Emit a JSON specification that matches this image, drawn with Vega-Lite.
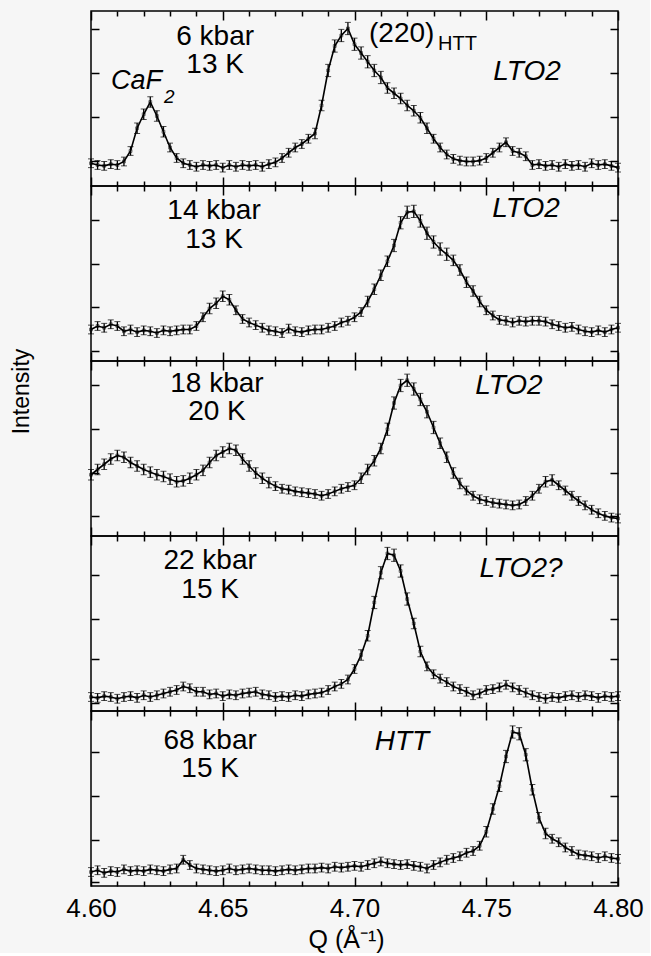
{
"$schema": "https://vega.github.io/schema/vega-lite/v6.json",
"background": "#f6f6f6",
"padding": {"left": 9, "top": 9, "right": 5, "bottom": 0},
"spacing": 0,
"bounds": "flush",
"datasets": {
"p1": [{"q":4.6,"i":13,"e":2.5},{"q":4.6025,"i":12,"e":2.5},{"q":4.605,"i":11.5,"e":2.5},{"q":4.6075,"i":12.5,"e":2.5},{"q":4.61,"i":12,"e":2.5},{"q":4.6125,"i":14,"e":2.5},{"q":4.615,"i":20,"e":2.5},{"q":4.6175,"i":33,"e":3},{"q":4.62,"i":41,"e":3},{"q":4.6225,"i":48,"e":3},{"q":4.625,"i":40,"e":3},{"q":4.6275,"i":31,"e":3},{"q":4.63,"i":22,"e":2.5},{"q":4.6325,"i":16,"e":2.5},{"q":4.635,"i":13,"e":2.5},{"q":4.6375,"i":12,"e":2.5},{"q":4.64,"i":11,"e":2.5},{"q":4.6425,"i":12,"e":2.5},{"q":4.645,"i":11.5,"e":2.5},{"q":4.6475,"i":12,"e":2.5},{"q":4.65,"i":10.5,"e":2.5},{"q":4.6525,"i":12,"e":2.5},{"q":4.655,"i":11,"e":2.5},{"q":4.6575,"i":12,"e":2.5},{"q":4.66,"i":11.5,"e":2.5},{"q":4.6625,"i":12,"e":2.5},{"q":4.665,"i":11,"e":2.5},{"q":4.6675,"i":12.5,"e":2.5},{"q":4.67,"i":13.5,"e":2.5},{"q":4.6725,"i":16,"e":2.5},{"q":4.675,"i":19,"e":2.5},{"q":4.6775,"i":22,"e":2.5},{"q":4.68,"i":24,"e":2.5},{"q":4.6825,"i":27,"e":2.5},{"q":4.685,"i":30,"e":3},{"q":4.6875,"i":46,"e":3},{"q":4.69,"i":66,"e":3.5},{"q":4.6925,"i":80,"e":3.5},{"q":4.695,"i":86,"e":3.5},{"q":4.6975,"i":90,"e":3.5},{"q":4.7,"i":81,"e":3.5},{"q":4.7025,"i":76,"e":3.5},{"q":4.705,"i":71,"e":3.5},{"q":4.7075,"i":66,"e":3.5},{"q":4.71,"i":62,"e":3.5},{"q":4.7125,"i":56,"e":3},{"q":4.715,"i":53,"e":3},{"q":4.7175,"i":50,"e":3},{"q":4.72,"i":46,"e":3},{"q":4.7225,"i":43,"e":3},{"q":4.725,"i":39,"e":3},{"q":4.7275,"i":33,"e":3},{"q":4.73,"i":27,"e":2.5},{"q":4.7325,"i":22,"e":2.5},{"q":4.735,"i":18,"e":2.5},{"q":4.7375,"i":15.5,"e":2.5},{"q":4.74,"i":14.5,"e":2.5},{"q":4.7425,"i":14,"e":2.5},{"q":4.745,"i":14,"e":2.5},{"q":4.7475,"i":14.5,"e":2.5},{"q":4.75,"i":16,"e":2.5},{"q":4.7525,"i":19,"e":2.5},{"q":4.755,"i":22,"e":2.5},{"q":4.7575,"i":25,"e":2.5},{"q":4.76,"i":20,"e":2.5},{"q":4.7625,"i":19,"e":2.5},{"q":4.765,"i":17,"e":2.5},{"q":4.7675,"i":12,"e":2.5},{"q":4.77,"i":12.5,"e":2.5},{"q":4.7725,"i":11.5,"e":2.5},{"q":4.775,"i":12,"e":2.5},{"q":4.7775,"i":11,"e":2.5},{"q":4.78,"i":12.5,"e":2.5},{"q":4.7825,"i":11.5,"e":2.5},{"q":4.785,"i":12,"e":2.5},{"q":4.7875,"i":11,"e":2.5},{"q":4.79,"i":13,"e":2.5},{"q":4.7925,"i":12,"e":2.5},{"q":4.795,"i":12.5,"e":2.5},{"q":4.7975,"i":11.5,"e":2.5},{"q":4.8,"i":10.5,"e":2.5}],
"p2": [{"q":4.6,"i":18,"e":2.5},{"q":4.6025,"i":20,"e":2.5},{"q":4.605,"i":19,"e":2.5},{"q":4.6075,"i":21,"e":2.5},{"q":4.61,"i":20,"e":2.5},{"q":4.6125,"i":17,"e":2.5},{"q":4.615,"i":18,"e":2.5},{"q":4.6175,"i":16.5,"e":2.5},{"q":4.62,"i":17.5,"e":2.5},{"q":4.6225,"i":17,"e":2.5},{"q":4.625,"i":16,"e":2.5},{"q":4.6275,"i":17.5,"e":2.5},{"q":4.63,"i":17,"e":2.5},{"q":4.6325,"i":17.5,"e":2.5},{"q":4.635,"i":18,"e":2.5},{"q":4.6375,"i":18,"e":2.5},{"q":4.64,"i":20,"e":2.5},{"q":4.6425,"i":25,"e":2.5},{"q":4.645,"i":30,"e":3},{"q":4.6475,"i":33,"e":3},{"q":4.65,"i":37,"e":3},{"q":4.6525,"i":35,"e":3},{"q":4.655,"i":29,"e":2.5},{"q":4.6575,"i":24,"e":2.5},{"q":4.66,"i":22,"e":2.5},{"q":4.6625,"i":20.5,"e":2.5},{"q":4.665,"i":19,"e":2.5},{"q":4.6675,"i":17.5,"e":2.5},{"q":4.67,"i":17,"e":2.5},{"q":4.6725,"i":16,"e":2.5},{"q":4.675,"i":18.5,"e":2.5},{"q":4.6775,"i":17,"e":2.5},{"q":4.68,"i":16.5,"e":2.5},{"q":4.6825,"i":17.5,"e":2.5},{"q":4.685,"i":18,"e":2.5},{"q":4.6875,"i":18,"e":2.5},{"q":4.69,"i":19,"e":2.5},{"q":4.6925,"i":20,"e":2.5},{"q":4.695,"i":22,"e":2.5},{"q":4.6975,"i":23,"e":2.5},{"q":4.7,"i":25,"e":2.5},{"q":4.7025,"i":28,"e":2.5},{"q":4.705,"i":34,"e":3},{"q":4.7075,"i":41,"e":3},{"q":4.71,"i":49,"e":3},{"q":4.7125,"i":57,"e":3},{"q":4.715,"i":66,"e":3.5},{"q":4.7175,"i":79,"e":3.5},{"q":4.72,"i":85,"e":3.5},{"q":4.7225,"i":85.5,"e":3.5},{"q":4.725,"i":80,"e":3.5},{"q":4.7275,"i":73,"e":3.5},{"q":4.73,"i":68,"e":3.5},{"q":4.7325,"i":64,"e":3.5},{"q":4.735,"i":61,"e":3.5},{"q":4.7375,"i":57.5,"e":3},{"q":4.74,"i":52,"e":3},{"q":4.7425,"i":45,"e":3},{"q":4.745,"i":40,"e":3},{"q":4.7475,"i":34,"e":3},{"q":4.75,"i":29,"e":2.5},{"q":4.7525,"i":26,"e":2.5},{"q":4.755,"i":23.5,"e":2.5},{"q":4.7575,"i":23,"e":2.5},{"q":4.76,"i":22,"e":2.5},{"q":4.7625,"i":23,"e":2.5},{"q":4.765,"i":22.5,"e":2.5},{"q":4.7675,"i":23,"e":2.5},{"q":4.77,"i":23,"e":2.5},{"q":4.7725,"i":22.5,"e":2.5},{"q":4.775,"i":21,"e":2.5},{"q":4.7775,"i":20,"e":2.5},{"q":4.78,"i":19,"e":2.5},{"q":4.7825,"i":19.5,"e":2.5},{"q":4.785,"i":18,"e":2.5},{"q":4.7875,"i":17,"e":2.5},{"q":4.79,"i":16.5,"e":2.5},{"q":4.7925,"i":17.5,"e":2.5},{"q":4.795,"i":16.5,"e":2.5},{"q":4.7975,"i":18,"e":2.5},{"q":4.8,"i":19,"e":2.5}],
"p3": [{"q":4.6,"i":35,"e":3},{"q":4.6025,"i":38,"e":3},{"q":4.605,"i":41,"e":3},{"q":4.6075,"i":44,"e":3},{"q":4.61,"i":46,"e":3},{"q":4.6125,"i":45,"e":3},{"q":4.615,"i":42,"e":3},{"q":4.6175,"i":40,"e":3},{"q":4.62,"i":38,"e":3},{"q":4.6225,"i":36.5,"e":3},{"q":4.625,"i":35,"e":3},{"q":4.6275,"i":34,"e":3},{"q":4.63,"i":32.5,"e":3},{"q":4.6325,"i":31,"e":3},{"q":4.635,"i":31.5,"e":3},{"q":4.6375,"i":33,"e":3},{"q":4.64,"i":35,"e":3},{"q":4.6425,"i":37.5,"e":3},{"q":4.645,"i":42,"e":3},{"q":4.6475,"i":46,"e":3},{"q":4.65,"i":48,"e":3},{"q":4.6525,"i":50,"e":3},{"q":4.655,"i":49,"e":3},{"q":4.6575,"i":44,"e":3},{"q":4.66,"i":40,"e":3},{"q":4.6625,"i":36,"e":3},{"q":4.665,"i":33,"e":3},{"q":4.6675,"i":30.5,"e":3},{"q":4.67,"i":28.5,"e":2.5},{"q":4.6725,"i":27,"e":2.5},{"q":4.675,"i":26.5,"e":2.5},{"q":4.6775,"i":25.5,"e":2.5},{"q":4.68,"i":25,"e":2.5},{"q":4.6825,"i":24.5,"e":2.5},{"q":4.685,"i":24,"e":2.5},{"q":4.6875,"i":23,"e":2.5},{"q":4.69,"i":24,"e":2.5},{"q":4.6925,"i":25.5,"e":2.5},{"q":4.695,"i":27,"e":2.5},{"q":4.6975,"i":28,"e":2.5},{"q":4.7,"i":29,"e":2.5},{"q":4.7025,"i":33,"e":3},{"q":4.705,"i":38,"e":3},{"q":4.7075,"i":43,"e":3},{"q":4.71,"i":50,"e":3},{"q":4.7125,"i":61,"e":3.5},{"q":4.715,"i":76,"e":3.5},{"q":4.7175,"i":86,"e":3.5},{"q":4.72,"i":89,"e":3.5},{"q":4.7225,"i":84,"e":3.5},{"q":4.725,"i":78,"e":3.5},{"q":4.7275,"i":71,"e":3.5},{"q":4.73,"i":62,"e":3.5},{"q":4.7325,"i":53,"e":3},{"q":4.735,"i":45,"e":3},{"q":4.7375,"i":36,"e":3},{"q":4.74,"i":30,"e":3},{"q":4.7425,"i":26,"e":2.5},{"q":4.745,"i":23,"e":2.5},{"q":4.7475,"i":21,"e":2.5},{"q":4.75,"i":20,"e":2.5},{"q":4.7525,"i":19,"e":2.5},{"q":4.755,"i":18.5,"e":2.5},{"q":4.7575,"i":18,"e":2.5},{"q":4.76,"i":17.5,"e":2.5},{"q":4.7625,"i":18,"e":2.5},{"q":4.765,"i":20,"e":2.5},{"q":4.7675,"i":23,"e":2.5},{"q":4.77,"i":27,"e":2.5},{"q":4.7725,"i":31,"e":3},{"q":4.775,"i":32,"e":3},{"q":4.7775,"i":29,"e":2.5},{"q":4.78,"i":26,"e":2.5},{"q":4.7825,"i":23,"e":2.5},{"q":4.785,"i":20,"e":2.5},{"q":4.7875,"i":17.5,"e":2.5},{"q":4.79,"i":15,"e":2.5},{"q":4.7925,"i":13,"e":2.5},{"q":4.795,"i":11.5,"e":2.5},{"q":4.7975,"i":10.5,"e":2.5},{"q":4.8,"i":10,"e":2.5}],
"p4": [{"q":4.6,"i":8,"e":2.5},{"q":4.6025,"i":7.5,"e":2.5},{"q":4.605,"i":8.5,"e":2.5},{"q":4.6075,"i":8,"e":2.5},{"q":4.61,"i":7,"e":2.5},{"q":4.6125,"i":8,"e":2.5},{"q":4.615,"i":8.5,"e":2.5},{"q":4.6175,"i":7.5,"e":2.5},{"q":4.62,"i":9,"e":2.5},{"q":4.6225,"i":8,"e":2.5},{"q":4.625,"i":9,"e":2.5},{"q":4.6275,"i":10,"e":2.5},{"q":4.63,"i":11,"e":2.5},{"q":4.6325,"i":12,"e":2.5},{"q":4.635,"i":14,"e":2.5},{"q":4.6375,"i":13,"e":2.5},{"q":4.64,"i":11,"e":2.5},{"q":4.6425,"i":11,"e":2.5},{"q":4.645,"i":9.5,"e":2.5},{"q":4.6475,"i":10,"e":2.5},{"q":4.65,"i":8.5,"e":2.5},{"q":4.6525,"i":9.5,"e":2.5},{"q":4.655,"i":9,"e":2.5},{"q":4.6575,"i":10,"e":2.5},{"q":4.66,"i":10.5,"e":2.5},{"q":4.6625,"i":11,"e":2.5},{"q":4.665,"i":9.5,"e":2.5},{"q":4.6675,"i":9,"e":2.5},{"q":4.67,"i":8,"e":2.5},{"q":4.6725,"i":8.5,"e":2.5},{"q":4.675,"i":8,"e":2.5},{"q":4.6775,"i":9,"e":2.5},{"q":4.68,"i":8.5,"e":2.5},{"q":4.6825,"i":9.5,"e":2.5},{"q":4.685,"i":10,"e":2.5},{"q":4.6875,"i":10.5,"e":2.5},{"q":4.69,"i":12,"e":2.5},{"q":4.6925,"i":14,"e":2.5},{"q":4.695,"i":15.5,"e":2.5},{"q":4.6975,"i":18,"e":2.5},{"q":4.7,"i":24,"e":2.5},{"q":4.7025,"i":32,"e":3},{"q":4.705,"i":43,"e":3},{"q":4.7075,"i":62,"e":3.5},{"q":4.71,"i":79,"e":3.5},{"q":4.7125,"i":90,"e":3.5},{"q":4.715,"i":89,"e":3.5},{"q":4.7175,"i":80,"e":3.5},{"q":4.72,"i":64,"e":3.5},{"q":4.7225,"i":50,"e":3},{"q":4.725,"i":34,"e":3},{"q":4.7275,"i":25.5,"e":2.5},{"q":4.73,"i":21,"e":2.5},{"q":4.7325,"i":18.5,"e":2.5},{"q":4.735,"i":16.5,"e":2.5},{"q":4.7375,"i":14,"e":2.5},{"q":4.74,"i":12.5,"e":2.5},{"q":4.7425,"i":11,"e":2.5},{"q":4.745,"i":9,"e":2.5},{"q":4.7475,"i":10,"e":2.5},{"q":4.75,"i":12,"e":2.5},{"q":4.7525,"i":12.5,"e":2.5},{"q":4.755,"i":13.5,"e":2.5},{"q":4.7575,"i":15,"e":2.5},{"q":4.76,"i":13.5,"e":2.5},{"q":4.7625,"i":12,"e":2.5},{"q":4.765,"i":10.5,"e":2.5},{"q":4.7675,"i":9,"e":2.5},{"q":4.77,"i":8,"e":2.5},{"q":4.7725,"i":7,"e":2.5},{"q":4.775,"i":8,"e":2.5},{"q":4.7775,"i":7.5,"e":2.5},{"q":4.78,"i":8.5,"e":2.5},{"q":4.7825,"i":9,"e":2.5},{"q":4.785,"i":8,"e":2.5},{"q":4.7875,"i":9,"e":2.5},{"q":4.79,"i":8.5,"e":2.5},{"q":4.7925,"i":7.5,"e":2.5},{"q":4.795,"i":8.5,"e":2.5},{"q":4.7975,"i":8,"e":2.5},{"q":4.8,"i":8.5,"e":2.5}],
"p5": [{"q":4.6,"i":8,"e":2.5},{"q":4.6025,"i":9,"e":2.5},{"q":4.605,"i":7.5,"e":2.5},{"q":4.6075,"i":8.5,"e":2.5},{"q":4.61,"i":8,"e":2.5},{"q":4.6125,"i":9.5,"e":2.5},{"q":4.615,"i":8.5,"e":2.5},{"q":4.6175,"i":9,"e":2.5},{"q":4.62,"i":8.5,"e":2.5},{"q":4.6225,"i":9.5,"e":2.5},{"q":4.625,"i":9,"e":2.5},{"q":4.6275,"i":8.5,"e":2.5},{"q":4.63,"i":9.5,"e":2.5},{"q":4.6325,"i":10,"e":2.5},{"q":4.635,"i":15,"e":2.5},{"q":4.6375,"i":12,"e":2.5},{"q":4.64,"i":10,"e":2.5},{"q":4.6425,"i":9.5,"e":2.5},{"q":4.645,"i":9,"e":2.5},{"q":4.6475,"i":8.5,"e":2.5},{"q":4.65,"i":9,"e":2.5},{"q":4.6525,"i":10,"e":2.5},{"q":4.655,"i":9,"e":2.5},{"q":4.6575,"i":9.5,"e":2.5},{"q":4.66,"i":10,"e":2.5},{"q":4.6625,"i":9.5,"e":2.5},{"q":4.665,"i":9,"e":2.5},{"q":4.6675,"i":9,"e":2.5},{"q":4.67,"i":8.5,"e":2.5},{"q":4.6725,"i":9,"e":2.5},{"q":4.675,"i":9.5,"e":2.5},{"q":4.6775,"i":9,"e":2.5},{"q":4.68,"i":9.5,"e":2.5},{"q":4.6825,"i":10,"e":2.5},{"q":4.685,"i":10,"e":2.5},{"q":4.6875,"i":10.5,"e":2.5},{"q":4.69,"i":10,"e":2.5},{"q":4.6925,"i":11,"e":2.5},{"q":4.695,"i":10.5,"e":2.5},{"q":4.6975,"i":11,"e":2.5},{"q":4.7,"i":11.5,"e":2.5},{"q":4.7025,"i":11,"e":2.5},{"q":4.705,"i":12,"e":2.5},{"q":4.7075,"i":13,"e":2.5},{"q":4.71,"i":14,"e":2.5},{"q":4.7125,"i":13,"e":2.5},{"q":4.715,"i":12.5,"e":2.5},{"q":4.7175,"i":12,"e":2.5},{"q":4.72,"i":12.5,"e":2.5},{"q":4.7225,"i":11.5,"e":2.5},{"q":4.725,"i":11,"e":2.5},{"q":4.7275,"i":10,"e":2.5},{"q":4.73,"i":12,"e":2.5},{"q":4.7325,"i":13.5,"e":2.5},{"q":4.735,"i":15,"e":2.5},{"q":4.7375,"i":16,"e":2.5},{"q":4.74,"i":17,"e":2.5},{"q":4.7425,"i":19,"e":2.5},{"q":4.745,"i":20,"e":2.5},{"q":4.7475,"i":23,"e":2.5},{"q":4.75,"i":31,"e":3},{"q":4.7525,"i":44,"e":3},{"q":4.755,"i":57,"e":3},{"q":4.7575,"i":74,"e":3.5},{"q":4.76,"i":88,"e":3.5},{"q":4.7625,"i":87,"e":3.5},{"q":4.765,"i":75,"e":3.5},{"q":4.7675,"i":55,"e":3},{"q":4.77,"i":39,"e":3},{"q":4.7725,"i":30,"e":3},{"q":4.775,"i":27,"e":2.5},{"q":4.7775,"i":25,"e":2.5},{"q":4.78,"i":22,"e":2.5},{"q":4.7825,"i":20,"e":2.5},{"q":4.785,"i":18,"e":2.5},{"q":4.7875,"i":17.5,"e":2.5},{"q":4.79,"i":17,"e":2.5},{"q":4.7925,"i":16,"e":2.5},{"q":4.795,"i":17,"e":2.5},{"q":4.7975,"i":16,"e":2.5},{"q":4.8,"i":15.5,"e":2.5}]
},
"vconcat": [
{
 "width": 527, "height": 175,
 "data": {"name": "p1"},
 "layer": [
  {"mark": {"type": "errorbar", "color": "black", "ticks": {"size": 6, "color": "black", "strokeWidth": 1.3}, "rule": {"strokeWidth": 1.3, "color": "black"}},
   "encoding": {"x": {"field": "q", "type": "quantitative", "scale": {"domain": [4.6, 4.8], "nice": false, "zero": false}, "axis": null},
    "y": {"field": "i", "type": "quantitative", "scale": {"domain": [0, 100], "nice": false, "zero": false}, "axis": null},
    "yError": {"field": "e"}}},
  {"mark": {"type": "line", "color": "black", "strokeWidth": 1.6},
   "encoding": {"x": {"field": "q", "type": "quantitative", "axis": {"orient": "bottom", "values": [4.6,4.61,4.62,4.63,4.64,4.65,4.66,4.67,4.68,4.69,4.7,4.71,4.72,4.73,4.74,4.75,4.76,4.77,4.78,4.79,4.8], "tickSize": {"condition": {"test": "abs(datum.value*20-round(datum.value*20))<0.01", "value": -9}, "value": -5}, "labels": false, "title": null}},
    "y": {"field": "i", "type": "quantitative", "axis": {"orient": "left", "values": [89.7,64.6,39.4,14.3], "tickSize": -8, "labels": false, "title": null}}}},
  {"mark": {"type": "point", "shape": "square", "size": 8, "filled": false, "color": "black", "strokeWidth": 0.8},
   "encoding": {"x": {"field": "q", "type": "quantitative", "axis": {"orient": "top", "values": [4.6,4.61,4.62,4.63,4.64,4.65,4.66,4.67,4.68,4.69,4.7,4.71,4.72,4.73,4.74,4.75,4.76,4.77,4.78,4.79,4.8], "tickSize": {"condition": {"test": "abs(datum.value*20-round(datum.value*20))<0.01", "value": -9}, "value": -5}, "labels": false, "title": null}},
    "y": {"field": "i", "type": "quantitative", "axis": {"orient": "right", "values": [89.7,64.6,39.4,14.3], "tickSize": -8, "labels": false, "title": null}}}},
  {"data": {"values": [{}]}, "mark": {"type": "text", "fontSize": 28, "align": "center", "baseline": "alphabetic", "lineHeight": 28.5},
   "encoding": {"x": {"datum": 4.6471, "type": "quantitative", "axis": null}, "y": {"datum": 80.6, "type": "quantitative", "axis": null}, "text": {"value": ["6 kbar", "13 K"]}}},
  {"data": {"values": [{}]}, "mark": {"type": "text", "fontSize": 27, "fontStyle": "italic", "align": "left", "baseline": "alphabetic"},
   "encoding": {"x": {"datum": 4.6076, "type": "quantitative", "axis": null}, "y": {"datum": 55.4, "type": "quantitative", "axis": null}, "text": {"value": "CaF"}}},
  {"data": {"values": [{}]}, "mark": {"type": "text", "fontSize": 19, "fontStyle": "italic", "align": "left", "baseline": "alphabetic"},
   "encoding": {"x": {"datum": 4.6277, "type": "quantitative", "axis": null}, "y": {"datum": 47.4, "type": "quantitative", "axis": null}, "text": {"value": "2"}}},
  {"data": {"values": [{}]}, "mark": {"type": "text", "fontSize": 28, "align": "left", "baseline": "alphabetic"},
   "encoding": {"x": {"datum": 4.7055, "type": "quantitative", "axis": null}, "y": {"datum": 82.3, "type": "quantitative", "axis": null}, "text": {"value": "(220)"}}},
  {"data": {"values": [{}]}, "mark": {"type": "text", "fontSize": 20, "align": "left", "baseline": "alphabetic"},
   "encoding": {"x": {"datum": 4.7317, "type": "quantitative", "axis": null}, "y": {"datum": 77.7, "type": "quantitative", "axis": null}, "text": {"value": "HTT"}}},
  {"data": {"values": [{}]}, "mark": {"type": "text", "fontSize": 28, "fontStyle": "italic", "align": "center", "baseline": "alphabetic"},
   "encoding": {"x": {"datum": 4.7655, "type": "quantitative", "axis": null}, "y": {"datum": 60.6, "type": "quantitative", "axis": null}, "text": {"value": "LTO2"}}}
 ],
 "resolve": {"axis": {"x": "independent", "y": "independent"}}
},
{
 "width": 527, "height": 175,
 "data": {"name": "p2"},
 "layer": [
  {"mark": {"type": "errorbar", "color": "black", "ticks": {"size": 6, "color": "black", "strokeWidth": 1.3}, "rule": {"strokeWidth": 1.3, "color": "black"}},
   "encoding": {"x": {"field": "q", "type": "quantitative", "scale": {"domain": [4.6, 4.8], "nice": false, "zero": false}, "axis": null},
    "y": {"field": "i", "type": "quantitative", "scale": {"domain": [0, 100], "nice": false, "zero": false}, "axis": null},
    "yError": {"field": "e"}}},
  {"mark": {"type": "line", "color": "black", "strokeWidth": 1.6},
   "encoding": {"x": {"field": "q", "type": "quantitative", "axis": {"orient": "bottom", "values": [4.6,4.61,4.62,4.63,4.64,4.65,4.66,4.67,4.68,4.69,4.7,4.71,4.72,4.73,4.74,4.75,4.76,4.77,4.78,4.79,4.8], "tickSize": {"condition": {"test": "abs(datum.value*20-round(datum.value*20))<0.01", "value": -9}, "value": -5}, "labels": false, "title": null}},
    "y": {"field": "i", "type": "quantitative", "axis": {"orient": "left", "values": [80.6,55.4,30.9,5.7], "tickSize": -8, "labels": false, "title": null}}}},
  {"mark": {"type": "point", "shape": "square", "size": 8, "filled": false, "color": "black", "strokeWidth": 0.8},
   "encoding": {"x": {"field": "q", "type": "quantitative", "axis": {"orient": "top", "values": [4.6,4.61,4.62,4.63,4.64,4.65,4.66,4.67,4.68,4.69,4.7,4.71,4.72,4.73,4.74,4.75,4.76,4.77,4.78,4.79,4.8], "tickSize": {"condition": {"test": "abs(datum.value*20-round(datum.value*20))<0.01", "value": -9}, "value": -5}, "labels": false, "title": null}},
    "y": {"field": "i", "type": "quantitative", "axis": {"orient": "right", "values": [80.6,55.4,30.9,5.7], "tickSize": -8, "labels": false, "title": null}}}},
  {"data": {"values": [{}]}, "mark": {"type": "text", "fontSize": 28, "align": "center", "baseline": "alphabetic", "lineHeight": 28.5},
   "encoding": {"x": {"datum": 4.6467, "type": "quantitative", "axis": null}, "y": {"datum": 81.1, "type": "quantitative", "axis": null}, "text": {"value": ["14 kbar", "13 K"]}}},
  {"data": {"values": [{}]}, "mark": {"type": "text", "fontSize": 28, "fontStyle": "italic", "align": "center", "baseline": "alphabetic"},
   "encoding": {"x": {"datum": 4.7651, "type": "quantitative", "axis": null}, "y": {"datum": 82.3, "type": "quantitative", "axis": null}, "text": {"value": "LTO2"}}}
 ],
 "resolve": {"axis": {"x": "independent", "y": "independent"}}
},
{
 "width": 527, "height": 175,
 "data": {"name": "p3"},
 "layer": [
  {"mark": {"type": "errorbar", "color": "black", "ticks": {"size": 6, "color": "black", "strokeWidth": 1.3}, "rule": {"strokeWidth": 1.3, "color": "black"}},
   "encoding": {"x": {"field": "q", "type": "quantitative", "scale": {"domain": [4.6, 4.8], "nice": false, "zero": false}, "axis": null},
    "y": {"field": "i", "type": "quantitative", "scale": {"domain": [0, 100], "nice": false, "zero": false}, "axis": null},
    "yError": {"field": "e"}}},
  {"mark": {"type": "line", "color": "black", "strokeWidth": 1.6},
   "encoding": {"x": {"field": "q", "type": "quantitative", "axis": {"orient": "bottom", "values": [4.6,4.61,4.62,4.63,4.64,4.65,4.66,4.67,4.68,4.69,4.7,4.71,4.72,4.73,4.74,4.75,4.76,4.77,4.78,4.79,4.8], "tickSize": {"condition": {"test": "abs(datum.value*20-round(datum.value*20))<0.01", "value": -9}, "value": -5}, "labels": false, "title": null}},
    "y": {"field": "i", "type": "quantitative", "axis": {"orient": "left", "values": [86.3,61.1,36,11.4], "tickSize": -8, "labels": false, "title": "Intensity", "titleFontSize": 23, "titleFontWeight": "normal", "titleColor": "black", "titleFont": "Liberation Sans", "titleX": -63, "titleY": 30, "titleAngle": 270, "titleAlign": "center", "titleBaseline": "alphabetic"}}}},
  {"mark": {"type": "point", "shape": "square", "size": 8, "filled": false, "color": "black", "strokeWidth": 0.8},
   "encoding": {"x": {"field": "q", "type": "quantitative", "axis": {"orient": "top", "values": [4.6,4.61,4.62,4.63,4.64,4.65,4.66,4.67,4.68,4.69,4.7,4.71,4.72,4.73,4.74,4.75,4.76,4.77,4.78,4.79,4.8], "tickSize": {"condition": {"test": "abs(datum.value*20-round(datum.value*20))<0.01", "value": -9}, "value": -5}, "labels": false, "title": null}},
    "y": {"field": "i", "type": "quantitative", "axis": {"orient": "right", "values": [86.3,61.1,36,11.4], "tickSize": -8, "labels": false, "title": null}}}},
  {"data": {"values": [{}]}, "mark": {"type": "text", "fontSize": 28, "align": "center", "baseline": "alphabetic", "lineHeight": 28.5},
   "encoding": {"x": {"datum": 4.6478, "type": "quantitative", "axis": null}, "y": {"datum": 82.3, "type": "quantitative", "axis": null}, "text": {"value": ["18 kbar", "20 K"]}}},
  {"data": {"values": [{}]}, "mark": {"type": "text", "fontSize": 28, "fontStyle": "italic", "align": "center", "baseline": "alphabetic"},
   "encoding": {"x": {"datum": 4.7586, "type": "quantitative", "axis": null}, "y": {"datum": 81.1, "type": "quantitative", "axis": null}, "text": {"value": "LTO2"}}}
 ],
 "resolve": {"axis": {"x": "independent", "y": "independent"}}
},
{
 "width": 527, "height": 175,
 "data": {"name": "p4"},
 "layer": [
  {"mark": {"type": "errorbar", "color": "black", "ticks": {"size": 6, "color": "black", "strokeWidth": 1.3}, "rule": {"strokeWidth": 1.3, "color": "black"}},
   "encoding": {"x": {"field": "q", "type": "quantitative", "scale": {"domain": [4.6, 4.8], "nice": false, "zero": false}, "axis": null},
    "y": {"field": "i", "type": "quantitative", "scale": {"domain": [0, 100], "nice": false, "zero": false}, "axis": null},
    "yError": {"field": "e"}}},
  {"mark": {"type": "line", "color": "black", "strokeWidth": 1.6},
   "encoding": {"x": {"field": "q", "type": "quantitative", "axis": {"orient": "bottom", "values": [4.6,4.61,4.62,4.63,4.64,4.65,4.66,4.67,4.68,4.69,4.7,4.71,4.72,4.73,4.74,4.75,4.76,4.77,4.78,4.79,4.8], "tickSize": {"condition": {"test": "abs(datum.value*20-round(datum.value*20))<0.01", "value": -9}, "value": -5}, "labels": false, "title": null}},
    "y": {"field": "i", "type": "quantitative", "axis": {"orient": "left", "values": [77.7,52.6,29.7,4.6], "tickSize": -8, "labels": false, "title": null}}}},
  {"mark": {"type": "point", "shape": "square", "size": 8, "filled": false, "color": "black", "strokeWidth": 0.8},
   "encoding": {"x": {"field": "q", "type": "quantitative", "axis": {"orient": "top", "values": [4.6,4.61,4.62,4.63,4.64,4.65,4.66,4.67,4.68,4.69,4.7,4.71,4.72,4.73,4.74,4.75,4.76,4.77,4.78,4.79,4.8], "tickSize": {"condition": {"test": "abs(datum.value*20-round(datum.value*20))<0.01", "value": -9}, "value": -5}, "labels": false, "title": null}},
    "y": {"field": "i", "type": "quantitative", "axis": {"orient": "right", "values": [77.7,52.6,29.7,4.6], "tickSize": -8, "labels": false, "title": null}}}},
  {"data": {"values": [{}]}, "mark": {"type": "text", "fontSize": 28, "align": "center", "baseline": "alphabetic", "lineHeight": 28.5},
   "encoding": {"x": {"datum": 4.6452, "type": "quantitative", "axis": null}, "y": {"datum": 81.1, "type": "quantitative", "axis": null}, "text": {"value": ["22 kbar", "15 K"]}}},
  {"data": {"values": [{}]}, "mark": {"type": "text", "fontSize": 28, "fontStyle": "italic", "align": "center", "baseline": "alphabetic"},
   "encoding": {"x": {"datum": 4.7632, "type": "quantitative", "axis": null}, "y": {"datum": 76.6, "type": "quantitative", "axis": null}, "text": {"value": "LTO2?"}}}
 ],
 "resolve": {"axis": {"x": "independent", "y": "independent"}}
},
{
 "width": 527, "height": 175,
 "data": {"name": "p5"},
 "layer": [
  {"mark": {"type": "errorbar", "color": "black", "ticks": {"size": 6, "color": "black", "strokeWidth": 1.3}, "rule": {"strokeWidth": 1.3, "color": "black"}},
   "encoding": {"x": {"field": "q", "type": "quantitative", "scale": {"domain": [4.6, 4.8], "nice": false, "zero": false}, "axis": null},
    "y": {"field": "i", "type": "quantitative", "scale": {"domain": [0, 100], "nice": false, "zero": false}, "axis": null},
    "yError": {"field": "e"}}},
  {"mark": {"type": "line", "color": "black", "strokeWidth": 1.6},
   "encoding": {"x": {"field": "q", "type": "quantitative", "axis": {"orient": "bottom", "values": [4.6,4.61,4.62,4.63,4.64,4.65,4.66,4.67,4.68,4.69,4.7,4.71,4.72,4.73,4.74,4.75,4.76,4.77,4.78,4.79,4.8], "tickSize": {"condition": {"test": "abs(datum.value*20-round(datum.value*20))<0.01", "value": -9}, "value": -5}, "labels": true, "labelExpr": "abs(datum.value*20-round(datum.value*20))<0.01 ? format(datum.value, '.2f') : ''", "labelFontSize": 26, "labelFont": "Liberation Sans", "labelColor": "black", "labelPadding": 18, "labelOverlap": false, "labelFlush": false, "labelBound": false, "title": "Q (Å⁻¹)", "titleFontSize": 25, "titleFontWeight": "normal", "titleFont": "Liberation Sans", "titleColor": "black", "titlePadding": 2, "titleX": 255}},
    "y": {"field": "i", "type": "quantitative", "axis": {"orient": "left", "values": [76.6,51.4,26.3,2.3], "tickSize": -8, "labels": false, "title": null}}}},
  {"mark": {"type": "point", "shape": "square", "size": 8, "filled": false, "color": "black", "strokeWidth": 0.8},
   "encoding": {"x": {"field": "q", "type": "quantitative", "axis": {"orient": "top", "values": [4.6,4.61,4.62,4.63,4.64,4.65,4.66,4.67,4.68,4.69,4.7,4.71,4.72,4.73,4.74,4.75,4.76,4.77,4.78,4.79,4.8], "tickSize": {"condition": {"test": "abs(datum.value*20-round(datum.value*20))<0.01", "value": -9}, "value": -5}, "labels": false, "title": null}},
    "y": {"field": "i", "type": "quantitative", "axis": {"orient": "right", "values": [76.6,51.4,26.3,2.3], "tickSize": -8, "labels": false, "title": null}}}},
  {"data": {"values": [{}]}, "mark": {"type": "text", "fontSize": 28, "align": "center", "baseline": "alphabetic", "lineHeight": 28.5},
   "encoding": {"x": {"datum": 4.6452, "type": "quantitative", "axis": null}, "y": {"datum": 78.3, "type": "quantitative", "axis": null}, "text": {"value": ["68 kbar", "15 K"]}}},
  {"data": {"values": [{}]}, "mark": {"type": "text", "fontSize": 28, "fontStyle": "italic", "align": "center", "baseline": "alphabetic"},
   "encoding": {"x": {"datum": 4.718, "type": "quantitative", "axis": null}, "y": {"datum": 77.7, "type": "quantitative", "axis": null}, "text": {"value": "HTT"}}}
 ],
 "resolve": {"axis": {"x": "independent", "y": "independent"}}
}
],
"config": {
 "font": "Liberation Sans",
 "view": {"stroke": "black", "strokeWidth": 1.5},
 "axis": {"domain": false, "grid": false, "tickColor": "black", "tickWidth": 1.5},
 "text": {"font": "Liberation Sans", "color": "black"}
}
}
